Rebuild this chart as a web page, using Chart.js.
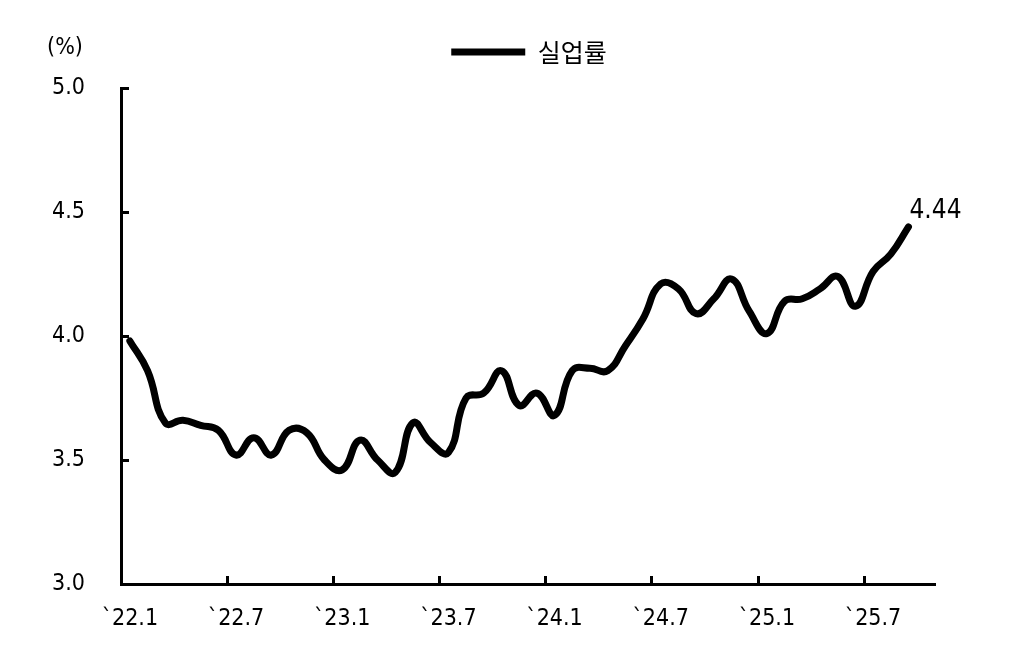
<!DOCTYPE html>
<html>
<head>
<meta charset="utf-8">
<script src="https://cdn.jsdelivr.net/npm/chart.js@4.4.1/dist/chart.umd.min.js"></script>
<style>
  html, body { margin: 0; padding: 0; background: #fff; }
  #wrap { width: 1020px; height: 650px; }
</style>
</head>
<body>
<div id="wrap"><canvas id="c" width="1020" height="650"></canvas></div>
<script>
// Monthly categories 2022.1 – 2025.10
const categories = [
  '22.1','22.2','22.3','22.4','22.5','22.6','22.7','22.8','22.9','22.10','22.11','22.12',
  '23.1','23.2','23.3','23.4','23.5','23.6','23.7','23.8','23.9','23.10','23.11','23.12',
  '24.1','24.2','24.3','24.4','24.5','24.6','24.7','24.8','24.9','24.10','24.11','24.12',
  '25.1','25.2','25.3','25.4','25.5','25.6','25.7','25.8','25.9','25.10'
];
// Unemployment rate (%)
const unemployment = [
  3.98, 3.86, 3.65, 3.66, 3.64, 3.62, 3.52, 3.59, 3.52, 3.62, 3.61, 3.50,
  3.46, 3.58, 3.50, 3.45, 3.65, 3.57, 3.53, 3.75, 3.77, 3.86, 3.72, 3.77,
  3.68, 3.86, 3.87, 3.86, 3.96, 4.07, 4.21, 4.19, 4.09, 4.15, 4.23, 4.10,
  4.01, 4.14, 4.15, 4.19, 4.24, 4.12, 4.26, 4.33, 4.44, null
];
const xTickLabels = ['`22.1','`22.7','`23.1','`23.7','`24.1','`24.7','`25.1','`25.7'];
const yTicks = [3.0, 3.5, 4.0, 4.5, 5.0];
const seriesName = '실업률';
const unitLabel = '(%)';

const NUM_FONT = "'DejaVu Sans Condensed', 'DejaVu Sans', sans-serif";

const extraText = {
  id: 'extraText',
  afterDraw(chart) {
    const ctx = chart.ctx;
    ctx.save();
    ctx.fillStyle = '#000';
    // unit label
    ctx.font = "23px " + NUM_FONT;
    ctx.textAlign = 'center';
    ctx.textBaseline = 'middle';
    ctx.fillText(unitLabel, 65, 48.5);
    // last value label
    const meta = chart.getDatasetMeta(0);
    let last = -1;
    unemployment.forEach((v, i) => { if (v !== null) last = i; });
    const pt = meta.data[last];
    ctx.font = "26px " + NUM_FONT;
    ctx.textAlign = 'left';
    ctx.textBaseline = 'alphabetic';
    ctx.fillText(unemployment[last].toFixed(2), pt.x + 1, pt.y - 8.5);
    ctx.restore();
  }
};

new Chart(document.getElementById('c'), {
  type: 'line',
  data: {
    labels: categories,
    datasets: [{
      label: seriesName,
      data: unemployment,
      borderColor: '#000',
      backgroundColor: '#000',
      borderWidth: 7,
      borderCapStyle: 'round',
      borderJoinStyle: 'round',
      pointRadius: 0,
      pointHoverRadius: 0,
      tension: 0.45,
      fill: false,
      spanGaps: false
    }]
  },
  options: {
    responsive: false,
    animation: false,
    devicePixelRatio: 1,
    layout: { padding: { top: 29.5, left: 38, right: 0, bottom: 0 } },
    font: { family: NUM_FONT, size: 23 },
    color: '#000',
    plugins: {
      tooltip: { enabled: false },
      legend: {
        position: 'top',
        align: 'center',
        labels: {
          usePointStyle: true,
          pointStyle: 'line',
          pointStyleWidth: 74,
          padding: 10,
          color: '#000',
          font: { family: "'Noto Sans CJK KR', sans-serif", size: 25 }
        }
      }
    },
    scales: {
      x: {
        type: 'category',
        offset: true,
        grid: {
          offset: true,
          drawOnChartArea: false,
          drawTicks: true,
          tickLength: -8,
          tickWidth: 3,
          tickColor: (c) => (c.index !== undefined && c.index % 6 === 0) ? '#000' : 'rgba(0,0,0,0)'
        },
        border: { display: true, color: '#000', width: 3 },
        ticks: {
          autoSkip: false,
          maxRotation: 0,
          minRotation: 0,
          padding: 29,
          color: '#000',
          font: { family: NUM_FONT, size: 23 },
          callback: (value, index) => (index % 6 === 0) ? xTickLabels[index / 6] : ''
        },
        afterFit: (s) => { s.height = 66; }
      },
      y: {
        type: 'linear',
        position: 'left',
        min: 3,
        max: 5,
        afterBuildTicks: (s) => { s.ticks = yTicks.map(v => ({ value: v })); },
        grid: {
          drawOnChartArea: false,
          tickLength: -8,
          tickWidth: 3,
          tickColor: '#000'
        },
        border: { display: true, color: '#000', width: 3 },
        ticks: {
          padding: 44,
          color: '#000',
          font: { family: NUM_FONT, size: 23 },
          callback: (v) => Number(v).toFixed(1)
        },
        afterFit: (s) => { s.width = 83; }
      },
      yr: {
        type: 'linear',
        position: 'right',
        display: true,
        grid: { display: false },
        ticks: { display: false },
        border: { display: false },
        afterFit: (s) => { s.width = 85; }
      },
      xt: {
        type: 'linear',
        position: 'top',
        display: true,
        grid: { display: false },
        ticks: { display: false },
        border: { display: false },
        afterFit: (s) => { s.height = 13.5; }
      }
    }
  },
  plugins: [extraText]
});
</script>
</body>
</html>
